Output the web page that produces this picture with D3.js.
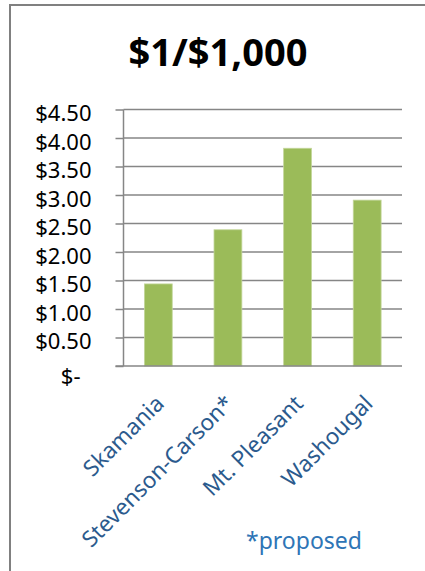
<!DOCTYPE html>
<html>
<head>
<meta charset="utf-8">
<script src="https://cdn.jsdelivr.net/npm/d3@7"></script>
<style>
  body { margin: 0; background: #fff; }
  svg { display: block; }
</style>
</head>
<body>
<div class="chart"></div>
<script>
// data
const categories = ["Skamania", "Stevenson-Carson*", "Mt. Pleasant", "Washougal"];
const values = [1.44, 2.39, 3.82, 2.91];
const yTicks = [0, 0.5, 1, 1.5, 2, 2.5, 3, 3.5, 4, 4.5];
const yTickLabels = ["$-", "$0.50", "$1.00", "$1.50", "$2.00", "$2.50", "$3.00", "$3.50", "$4.00", "$4.50"];
const title = "$1/$1,000";
const note = "*proposed";

const width = 425;
const height = 571;
const plot = { left: 123.5, right: 402, top: 109.5, bottom: 366 };

const svg = d3.select(".chart").append("svg")
    .attr("width", width)
    .attr("height", height);

// frame (only left and top edges show)
svg.append("path")
    .attr("d", "M10," + height + "V5H" + width)
    .attr("fill", "none")
    .attr("stroke", "#808080")
    .attr("stroke-width", 2);

svg.append("text")
    .attr("x", 218)
    .attr("y", 66)
    .attr("text-anchor", "middle")
    .attr("font-family", "Noto Sans")
    .attr("font-weight", "bold")
    .attr("font-size", 38)
    .attr("fill", "#000")
    .text(title);

const xScale = d3.scaleBand()
    .domain(categories)
    .range([plot.left, plot.right])
    .paddingInner(0.6)
    .paddingOuter(0.3);

const yScale = d3.scaleLinear().domain([0, 4.5]).range([plot.bottom, plot.top]);

// gridlines
svg.append("g")
    .selectAll("line")
    .data(yTicks.filter(d => d > 0))
    .enter()
    .append("line")
    .attr("x1", plot.left)
    .attr("x2", plot.right)
    .attr("y1", d => yScale(d))
    .attr("y2", d => yScale(d))
    .attr("stroke", "#868686")
    .attr("stroke-width", 1.5);

// bars
svg.append("g")
    .selectAll(".bar")
    .data(values)
    .enter()
    .append("rect")
    .classed("bar", true)
    .attr("x", (d, i) => xScale(categories[i]))
    .attr("y", d => yScale(d))
    .attr("width", xScale.bandwidth())
    .attr("height", d => plot.bottom - yScale(d))
    .attr("fill", "#9bbb59")
    .attr("stroke", "#c3d69b")
    .attr("stroke-width", 0.8);

// y axis
const yAxis = svg.append("g")
    .attr("transform", "translate(" + plot.left + ",0)")
    .call(d3.axisLeft(yScale)
        .tickValues(yTicks)
        .tickSize(8)
        .tickFormat((d, i) => yTickLabels[i]));
yAxis.select(".domain").remove();
yAxis.selectAll(".tick line").attr("stroke", "#868686").attr("stroke-width", 1.5);
yAxis.selectAll(".tick text")
    .attr("x", -32)
    .attr("text-anchor", "end")
    .attr("font-family", "Noto Sans")
    .attr("font-size", 22)
    .attr("fill", "#000")
    .attr("dy", "0.5em");
yAxis.selectAll(".tick text").filter(d => d === 0)
    .attr("x", -43)
    .attr("dy", "0.8em");

svg.append("line")
    .attr("x1", plot.left).attr("x2", plot.left)
    .attr("y1", plot.top).attr("y2", plot.bottom)
    .attr("stroke", "#868686").attr("stroke-width", 1.5);

// x axis baseline
const xAxis = svg.append("g")
    .attr("transform", "translate(0," + plot.bottom + ")")
    .call(d3.axisBottom(xScale).tickSize(0).tickSizeOuter(0));
xAxis.select(".domain")
    .attr("d", "M" + (plot.left - 8) + ",0H" + plot.right)
    .attr("stroke", "#868686")
    .attr("stroke-width", 1.5);
xAxis.selectAll(".tick text")
    .attr("font-family", "Noto Sans")
    .attr("font-size", 22.5)
    .attr("fill", "#2b5a8d")
    .attr("text-anchor", "end")
    .attr("dy", 0)
    .attr("y", 0)
    .attr("transform", "translate(7,39) rotate(-45)");

svg.append("text")
    .attr("x", 246)
    .attr("y", 549)
    .attr("font-family", "Noto Sans")
    .attr("font-size", 23)
    .attr("fill", "#2e75b6")
    .text(note);
</script>
</body>
</html>
